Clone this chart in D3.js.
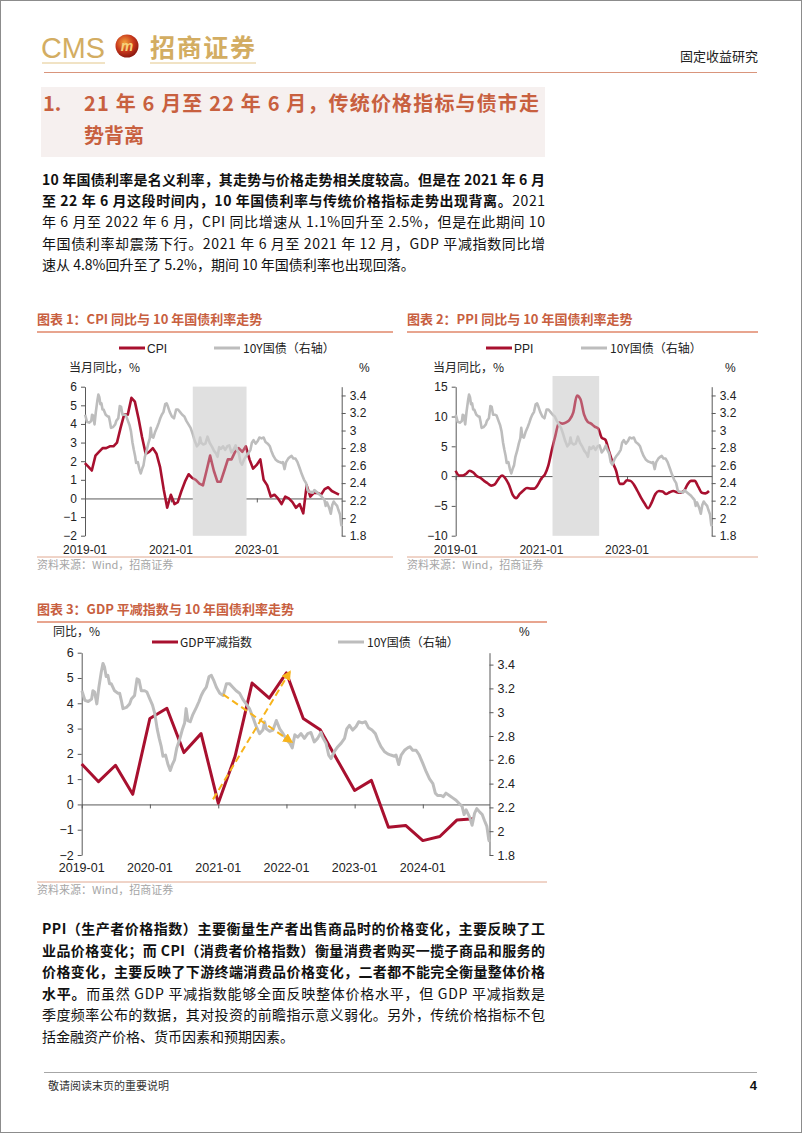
<!DOCTYPE html>
<html><head><meta charset="utf-8">
<script src="https://cdn.jsdelivr.net/npm/d3@7"></script>
<style>
body{margin:0;background:#fff;}
svg{display:block;}
</style></head><body>
<svg id="page" width="802" height="1133"></svg>
<script>
// ---------------- DATA ----------------
const monthStart = "2018-12", monthEndLabel = "2024-11";
const cpiValues = [1.9,
 1.7,1.5,2.3,2.5,2.7,2.7,2.8,2.8,3.0,3.8,4.5,4.5,
 5.4,5.2,4.3,3.3,2.4,2.5,2.7,2.4,1.7,0.5,-0.5,0.2,
 -0.3,-0.2,0.4,0.9,1.3,1.1,1.0,0.8,0.7,1.5,2.3,1.5,
 0.9,0.9,1.5,2.1,2.1,2.5,2.7,2.5,2.8,2.1,1.6,1.8,
 2.1,1.0,0.7,0.1,0.2,0.0,-0.3,0.1,0.0,-0.2,-0.5,-0.3,
 -0.8,0.7,0.1,0.3,0.3,0.2,0.5,0.6,0.4,0.3,0.2];
const ppiValues = [0.9,
 0.1,0.1,0.4,0.9,0.6,0.0,-0.3,-0.8,-1.2,-1.6,-1.4,-0.5,
 0.1,-0.4,-1.5,-3.1,-3.7,-3.0,-2.4,-2.0,-2.1,-2.1,-1.5,-0.4,
 0.3,1.7,4.4,6.8,9.0,8.8,9.0,9.5,10.7,13.5,12.9,10.3,
 9.1,8.8,8.3,8.0,6.4,6.1,4.2,2.3,0.9,-1.3,-1.3,-0.7,
 -0.8,-1.4,-2.5,-3.6,-4.6,-5.4,-4.4,-3.0,-2.5,-2.6,-3.0,-2.7,
 -2.5,-2.7,-2.8,-2.5,-1.4,-0.8,-0.8,-1.8,-2.8,-2.9,-2.5];
const gdpQuarters = ["2019-01-01","2019-04-01","2019-07-01","2019-10-01","2020-01-01","2020-04-01","2020-07-01","2020-10-01",
 "2021-01-01","2021-04-01","2021-07-01","2021-10-01","2022-01-01","2022-04-01","2022-07-01","2022-10-01",
 "2023-01-01","2023-04-01","2023-07-01","2023-10-01","2024-01-01","2024-04-01","2024-07-01","2024-10-01"];
const gdpValues = [1.6,0.9,1.55,0.4,3.4,3.8,2.05,2.8,0.05,1.9,4.8,4.2,5.2,3.4,2.95,1.75,0.55,0.95,-0.9,-0.83,-1.43,-1.27,-0.62,-0.57];
const bondDates = ["2019-01-02","2019-01-18","2019-02-05","2019-02-23","2019-03-02","2019-03-11","2019-03-23","2019-04-03","2019-04-16","2019-04-25",
 "2019-05-03","2019-05-12","2019-05-21","2019-05-30","2019-06-08","2019-06-26","2019-07-14","2019-07-23","2019-08-01","2019-08-10",
 "2019-08-28","2019-09-15","2019-09-24","2019-10-11","2019-10-24","2019-11-04","2019-11-16","2019-12-04","2019-12-16","2020-01-01",
 "2020-01-15","2020-01-27","2020-02-09","2020-02-20","2020-03-02","2020-03-11","2020-03-25","2020-04-07","2020-04-19","2020-04-30",
 "2020-05-12","2020-05-24","2020-06-08","2020-06-22","2020-07-05","2020-07-13","2020-07-22","2020-08-04","2020-08-18","2020-09-06",
 "2020-09-20","2020-10-02","2020-10-15","2020-10-29","2020-11-13","2020-11-25","2020-12-07","2020-12-22","2021-01-09","2021-01-27",
 "2021-02-14","2021-03-02","2021-03-20","2021-04-07","2021-04-25","2021-05-12","2021-05-30","2021-06-17","2021-07-05","2021-07-23",
 "2021-08-10","2021-08-28","2021-09-06","2021-09-15","2021-10-03","2021-10-21","2021-11-08","2021-11-26","2021-12-14","2022-01-01",
 "2022-01-19","2022-02-01","2022-02-15","2022-03-02","2022-03-20","2022-04-07","2022-04-25","2022-05-12","2022-05-30","2022-06-17",
 "2022-07-05","2022-07-14","2022-08-01","2022-08-15","2022-08-28","2022-09-15","2022-10-03","2022-10-21","2022-11-08","2022-11-20",
 "2022-12-04","2022-12-22","2023-01-09","2023-01-23","2023-02-11","2023-02-28","2023-03-16","2023-04-04","2023-04-22","2023-05-04",
 "2023-05-22","2023-06-09","2023-06-27","2023-07-14","2023-08-02","2023-08-11","2023-08-25","2023-09-07","2023-09-25","2023-10-12",
 "2023-10-24","2023-11-08","2023-11-26","2023-12-13","2024-01-01","2024-01-19","2024-02-06","2024-02-24","2024-03-08","2024-03-20",
 "2024-04-08","2024-04-20","2024-05-04","2024-05-22","2024-06-09","2024-06-27","2024-07-15","2024-07-29","2024-08-09","2024-08-20",
 "2024-09-07","2024-09-21","2024-10-04","2024-10-16","2024-11-01","2024-11-14","2024-11-26","2024-12-09","2024-12-19","2024-12-23"];
const bondValues = [3.18,3.10,3.09,3.11,3.18,3.17,3.07,3.21,3.34,3.41,
 3.38,3.30,3.31,3.24,3.24,3.18,3.16,3.16,3.10,3.03,
 3.04,3.07,3.11,3.14,3.28,3.27,3.18,3.18,3.17,3.11,
 3.06,2.99,2.86,2.78,2.71,2.63,2.64,2.56,2.51,2.56,
 2.60,2.70,2.77,2.85,2.91,3.03,2.93,2.92,2.98,3.04,
 3.09,3.14,3.18,3.21,3.30,3.31,3.27,3.21,3.16,3.14,
 3.24,3.24,3.21,3.18,3.16,3.11,3.07,3.03,2.96,2.88,
 2.82,2.85,2.92,2.86,2.84,2.85,2.93,2.86,2.82,2.77,
 2.74,2.70,2.81,2.79,2.82,2.78,2.82,2.83,2.75,2.78,
 2.83,2.79,2.74,2.64,2.61,2.67,2.71,2.74,2.78,2.86,
 2.89,2.85,2.88,2.92,2.91,2.92,2.87,2.85,2.82,2.77,
 2.71,2.67,2.65,2.64,2.63,2.64,2.56,2.64,2.68,2.70,
 2.71,2.68,2.68,2.64,2.57,2.50,2.44,2.40,2.32,2.30,
 2.30,2.29,2.32,2.30,2.28,2.26,2.23,2.21,2.14,2.18,
 2.12,2.05,2.15,2.19,2.16,2.14,2.09,2.04,1.93,1.91];
const xStart = "2019-01-01", xEnd = "2024-12-23";
const cpiTicks = [-2,-1,0,1,2,3,4,5,6];
const ppiTicks = [-10,-5,0,5,10,15];
const gdpTicks = [-2,-1,0,1,2,3,4,5,6];
const bondTicks = [1.8,2.0,2.2,2.4,2.6,2.8,3.0,3.2,3.4];
const bondDomain = [1.8,3.5];
const xLabels2y = ["2019-01","2021-01","2023-01"];
const xLabels1y = ["2019-01","2020-01","2021-01","2022-01","2023-01","2024-01"];
const shade1 = ["2021-07-06","2022-10-05"];
const shade2 = ["2021-04-06","2022-05-08"];
// arrows in chart 3 (date, value on axis)
const arrowDown = [["2021-01-27",3.15],["2022-01-28",2.75]];   // right axis
const arrowUp   = [["2020-12-04",0.2],["2022-01-19",5.24]];    // left axis

// ---------------- HELPERS ----------------
const svg = d3.select("#page");
const CJK = '"Noto Sans CJK SC","Noto Sans",sans-serif';
const ARIAL = '"Liberation Sans",Arial,sans-serif';
const pDay = d3.timeParse("%Y-%m-%d"), pMon = d3.timeParse("%Y-%m");
const months = d3.timeMonth.range(pMon(monthStart), d3.timeMonth.offset(pMon(monthEndLabel),1));
const monthEndDate = m => d3.timeDay.offset(d3.timeMonth.offset(m,1),-1);
const RED = "#a8102f", GRAY = "#bdbdbd", TITLE = "#c8603f", AX = "#595959";

svg.append("rect").attr("x",0.5).attr("y",0.5).attr("width",801).attr("height",1132)
  .attr("fill","#fff").attr("stroke","#8c8c8c");

// ---------------- HEADER ----------------
svg.append("text").attr("x",41).attr("y",58).text("CMS")
  .attr("font-family",ARIAL).attr("font-size",29).attr("fill","#d3ad62").attr("textLength",64).attr("lengthAdjust","spacingAndGlyphs");
const grad = svg.append("defs").append("radialGradient").attr("id","ball").attr("cx","40%").attr("cy","35%").attr("r","65%");
grad.append("stop").attr("offset","0%").attr("stop-color","#f3a23a");
grad.append("stop").attr("offset","60%").attr("stop-color","#c8381c");
grad.append("stop").attr("offset","100%").attr("stop-color","#8e1a10");
svg.append("circle").attr("cx",127).attr("cy",46).attr("r",11.5).attr("fill","url(#ball)");
svg.append("text").attr("x",127).attr("y",51).attr("text-anchor","middle").text("m")
  .attr("font-family",ARIAL).attr("font-weight","bold").attr("font-style","italic").attr("font-size",14).attr("fill","#f7d27a");
svg.append("text").attr("x",150).attr("y",57).text("招商证券")
  .attr("font-family",CJK).attr("font-weight","bold").attr("font-size",25).attr("fill","#d3ad62").attr("textLength",105);
svg.append("line").attr("x1",42).attr("x2",105).attr("y1",63).attr("y2",63).attr("stroke","#e3c78a").attr("stroke-width",1);
svg.append("line").attr("x1",150).attr("x2",256).attr("y1",63).attr("y2",63).attr("stroke","#e3c78a").attr("stroke-width",1);
svg.append("text").attr("x",758).attr("y",61).attr("text-anchor","end").text("固定收益研究")
  .attr("font-family",CJK).attr("font-size",13).attr("fill","#222");
svg.append("line").attr("x1",44).attr("x2",757).attr("y1",72.5).attr("y2",72.5).attr("stroke","#d9957c").attr("stroke-width",1);

// section heading
svg.append("rect").attr("x",41).attr("y",87).attr("width",504).attr("height",70).attr("fill","#f6f0ef");
const hd = svg.append("g").attr("font-family",CJK).attr("font-weight","bold").attr("font-size",20).attr("fill",TITLE);
hd.append("text").attr("x",43).attr("y",111).text("1.");
hd.append("text").attr("x",84).attr("y",111).text("21 年 6 月至 22 年 6 月，传统价格指标与债市走").attr("textLength",455).attr("lengthAdjust","spacing");
hd.append("text").attr("x",84).attr("y",143).text("势背离");

// paragraph helper
function para(lines, x, y0, lh, width){
  lines.forEach((ln,i)=>{
    const t = svg.append("text").attr("x",x).attr("y",y0+i*lh)
      .attr("font-family",CJK).attr("font-size",14).attr("fill","#111");
    ln.parts.forEach(p=>{
      t.append("tspan").text(p[0]).attr("font-weight",p[1]?"bold":"normal");
    });
    if(ln.justify){ t.attr("textLength",width).attr("lengthAdjust","spacing"); }
  });
}
para([
  {parts:[["10 年国债利率是名义利率，其走势与价格走势相关度较高。但是在 2021 年 6 月",1]],justify:true},
  {parts:[["至 22 年 6 月这段时间内，10 年国债利率与传统价格指标走势出现背离。",1],["2021",0]],justify:true},
  {parts:[["年 6 月至 2022 年 6 月，CPI 同比增速从 1.1%回升至 2.5%，但是在此期间 10",0]],justify:true},
  {parts:[["年国债利率却震荡下行。2021 年 6 月至 2021 年 12 月，GDP 平减指数同比增",0]],justify:true},
  {parts:[["速从 4.8%回升至了 5.2%，期间 10 年国债利率也出现回落。",0]],justify:false}
], 42, 185, 21.2, 503);

para([
  {parts:[["PPI（生产者价格指数）主要衡量生产者出售商品时的价格变化，主要反映了工",1]],justify:true},
  {parts:[["业品价格变化；而 CPI（消费者价格指数）衡量消费者购买一揽子商品和服务的",1]],justify:true},
  {parts:[["价格变化，主要反映了下游终端消费品价格变化，二者都不能完全衡量整体价格",1]],justify:true},
  {parts:[["水平。",1],["而虽然 GDP 平减指数能够全面反映整体价格水平，但 GDP 平减指数是",0]],justify:true},
  {parts:[["季度频率公布的数据，其对投资的前瞻指示意义弱化。另外，传统价格指标不包",0]],justify:true},
  {parts:[["括金融资产价格、货币因素和预期因素。",0]],justify:false}
], 42, 934, 21.5, 503);

// footer
svg.append("line").attr("x1",44).attr("x2",757).attr("y1",1072.5).attr("y2",1072.5).attr("stroke","#a6a6a6");
svg.append("text").attr("x",48).attr("y",1090).text("敬请阅读末页的重要说明").attr("font-family",CJK).attr("font-size",11).attr("fill","#333");
svg.append("text").attr("x",757).attr("y",1090).attr("text-anchor","end").text("4").attr("font-family",ARIAL).attr("font-weight","bold").attr("font-size",13).attr("fill","#111");

// ---------------- CHARTS ----------------
const bondData = bondDates.map((d,i)=>({d:pDay(d),v:bondValues[i]}));

function drawChart(c){
  const g = svg.append("g");
  const x = d3.scaleTime().domain([pDay(xStart),pDay(xEnd)]).range([c.L,c.R]);
  const yL = d3.scaleLinear().domain(c.leftDomain).range([c.B,c.T]);
  const yR = d3.scaleLinear().domain(bondDomain).range([c.B,c.T]);

  // title + rules
  g.append("text").attr("x",c.titleX).attr("y",c.titleY).text(c.title)
    .attr("font-family",CJK).attr("font-weight","bold").attr("font-size",13).attr("fill",TITLE);
  g.append("line").attr("x1",c.titleX).attr("x2",c.ruleR).attr("y1",c.titleY+8).attr("y2",c.titleY+8).attr("stroke","#e0876a").attr("stroke-width",1.3);
  g.append("line").attr("x1",c.titleX).attr("x2",c.ruleR).attr("y1",c.srcY-7).attr("y2",c.srcY-7).attr("stroke","#e0a890").attr("stroke-width",1);
  g.append("text").attr("x",c.titleX).attr("y",c.srcY+5).text("资料来源：Wind，招商证券")
    .attr("font-family",CJK).attr("font-size",11).attr("fill","#a6a6a6");

  // legend
  const lg = g.append("g").attr("font-size",12).attr("fill","#222");
  lg.append("line").attr("x1",c.leg1).attr("x2",c.leg1+26).attr("y1",c.legY).attr("y2",c.legY).attr("stroke",RED).attr("stroke-width",3);
  lg.append("text").attr("x",c.leg1+28).attr("y",c.legY+4.5).text(c.redName).attr("font-family",c.redFont);
  lg.append("line").attr("x1",c.leg2).attr("x2",c.leg2+26).attr("y1",c.legY).attr("y2",c.legY).attr("stroke",GRAY).attr("stroke-width",3);
  lg.append("text").attr("x",c.leg2+29).attr("y",c.legY+4.5).text("10Y国债（右轴）").attr("font-family",CJK);

  // axis titles
  g.append("text").attr("x",c.ltX).attr("y",c.ltY).text(c.leftTitle).attr("font-family",CJK).attr("font-size",12).attr("fill","#222");
  g.append("text").attr("x",c.rtX).attr("y",c.ltY).text("%").attr("font-family",ARIAL).attr("font-size",12).attr("fill","#222");

  // left axis
  const la = g.append("g").attr("transform",`translate(${c.L},0)`)
    .call(d3.axisLeft(yL).tickValues(c.leftTicks).tickSize(4).tickSizeOuter(0).tickPadding(4).tickFormat(d3.format("d")));
  la.select(".domain").attr("stroke",AX);
  la.selectAll(".tick line").attr("stroke",AX);
  la.selectAll("text").attr("font-family",ARIAL).attr("font-size",c.fs).attr("fill","#222");
  // right axis
  const ra = g.append("g").attr("transform",`translate(${c.R},0)`)
    .call(d3.axisRight(yR).tickValues(bondTicks).tickSize(4).tickSizeOuter(0).tickPadding(4).tickFormat(d=>d3.format("~g")(+d.toFixed(1))));
  ra.select(".domain").attr("stroke",AX);
  ra.selectAll(".tick line").attr("stroke",AX);
  ra.selectAll("text").attr("font-family",ARIAL).attr("font-size",c.fs).attr("fill","#222");

  // zero line + ticks
  const xa = g.append("g").attr("transform",`translate(0,${yL(0)})`)
    .call(d3.axisBottom(x).tickValues(c.xLabels.map(pMon)).tickSize(4).tickSizeOuter(0).tickFormat(""));
  xa.select(".domain").attr("stroke",AX);
  xa.selectAll(".tick line").attr("stroke",AX);
  // x labels at bottom
  g.append("g").selectAll("text").data(c.xLabels).join("text")
    .attr("x",d=>x(pMon(d))).attr("y",c.B+c.xlabDy).attr("text-anchor","middle").text(d=>d)
    .attr("font-family",ARIAL).attr("font-size",c.fs).attr("fill","#222");

  // shade base (hides the zero line inside the band)
  let sx0, sw;
  if(c.shade){
    sx0 = x(pDay(c.shade[0])); sw = x(pDay(c.shade[1]))-sx0;
    g.append("rect").attr("x",sx0).attr("width",sw)
      .attr("y",c.shadeTop).attr("height",c.B-c.shadeTop).attr("fill","#e0e0e0");
  }

  // red series
  g.append("path").datum(c.redData).attr("fill","none").attr("stroke",RED).attr("stroke-width",c.sw)
    .attr("stroke-linejoin","round")
    .attr("d",d3.line().x(d=>x(d.d)).y(d=>yL(d.v)).curve(c.curve));
  // bond series (secondary axis on top)
  g.append("path").datum(bondData).attr("fill","none").attr("stroke",GRAY).attr("stroke-width",c.sw)
    .attr("stroke-linejoin","round")
    .attr("d",d3.line().x(d=>x(d.d)).y(d=>yL === null ? 0 : yR(d.v)));

  if(c.shade){
    g.append("rect").attr("x",sx0).attr("width",sw)
      .attr("y",c.shadeTop).attr("height",c.B-c.shadeTop).attr("fill","#e0e0e0").attr("opacity",0.35);
  }
  return {g,x,yL,yR};
}

const cpiData = months.map((m,i)=>({d:monthEndDate(m),v:cpiValues[i]}));
const ppiData = months.map((m,i)=>({d:monthEndDate(m),v:ppiValues[i]}));
const gdpData = gdpQuarters.map((q,i)=>({d:pDay(q),v:gdpValues[i]}));

drawChart({L:85,R:341.7,T:386.7,B:535.7,leftDomain:[-2,6],leftTicks:cpiTicks,
  title:"图表 1：CPI 同比与 10 年国债利率走势",titleX:37,titleY:324,ruleR:393,srcY:564,
  legY:348,leg1:119,leg2:214,redName:"CPI",redFont:ARIAL,
  leftTitle:"当月同比，%",ltX:69,ltY:372,rtX:359,fs:12,
  xLabels:xLabels2y,xlabDy:18,redData:cpiData,curve:d3.curveLinear,sw:2.6,
  shade:shade1,shadeTop:386.7});

drawChart({L:455.7,R:711.7,T:386.7,B:535.7,leftDomain:[-10,15],leftTicks:ppiTicks,
  title:"图表 2：PPI 同比与 10 年国债利率走势",titleX:407,titleY:324,ruleR:758,srcY:564,
  legY:348,leg1:486,leg2:581,redName:"PPI",redFont:ARIAL,
  leftTitle:"当月同比，%",ltX:433,ltY:372,rtX:725,fs:12,
  xLabels:xLabels2y,xlabDy:18,redData:ppiData,curve:d3.curveMonotoneX,sw:2.6,
  shade:shade2,shadeTop:376});

const c3 = drawChart({L:81.7,R:489.5,T:652.7,B:855,leftDomain:[-2,6],leftTicks:gdpTicks,
  title:"图表 3：GDP 平减指数与 10 年国债利率走势",titleX:37,titleY:614,ruleR:547,srcY:889,
  legY:642,leg1:152,leg2:338,redName:"GDP平减指数",redFont:CJK,
  leftTitle:"同比，%",ltX:53,ltY:636,rtX:519,fs:12.5,
  xLabels:xLabels1y,xlabDy:17,redData:gdpData,curve:d3.curveLinear,sw:3,
  shade:null});

// arrows
const defs = svg.select("defs");
defs.append("marker").attr("id","arr").attr("viewBox","0 0 10 10").attr("refX",8).attr("refY",5)
  .attr("markerWidth",5).attr("markerHeight",5).attr("orient","auto")
  .append("path").attr("d","M0,0L10,5L0,10z").attr("fill","#f7b41c");
c3.g.append("line")
  .attr("x1",c3.x(pDay(arrowDown[0][0]))).attr("y1",c3.yR(arrowDown[0][1]))
  .attr("x2",c3.x(pDay(arrowDown[1][0]))).attr("y2",c3.yR(arrowDown[1][1]))
  .attr("stroke","#f7b41c").attr("stroke-width",2).attr("stroke-dasharray","7,4").attr("marker-end","url(#arr)");
c3.g.append("line")
  .attr("x1",c3.x(pDay(arrowUp[0][0]))).attr("y1",c3.yL(arrowUp[0][1]))
  .attr("x2",c3.x(pDay(arrowUp[1][0]))).attr("y2",c3.yL(arrowUp[1][1]))
  .attr("stroke","#f7b41c").attr("stroke-width",2).attr("stroke-dasharray","7,4").attr("marker-end","url(#arr)");
</script>
</body></html>
